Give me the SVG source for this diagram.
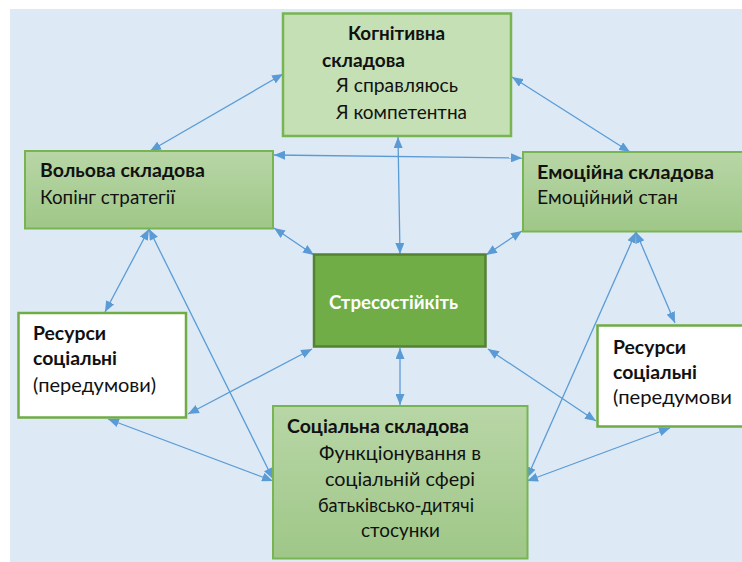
<svg xmlns="http://www.w3.org/2000/svg" width="742" height="562" viewBox="0 0 742 562">
<defs>
<linearGradient id="g" x1="0" y1="0" x2="0" y2="1">
<stop offset="0" stop-color="#b8d6a6"/>
<stop offset="1" stop-color="#9fc788"/>
</linearGradient>
<marker id="a" viewBox="0 0 11 9" refX="11" refY="4.5" markerWidth="11" markerHeight="9" markerUnits="userSpaceOnUse" orient="auto-start-reverse">
<path d="M0,0 L11,4.5 L0,9 z" fill="#5b9bd5"/>
</marker>
<style>
text{font-family:Lato,"Noto Sans",sans-serif;font-size:19.5px;fill:#111}
.b{font-weight:bold}
.w{fill:#ffffff}
.gbox{fill:url(#g);stroke:#78b452;stroke-width:2}
.cog{fill:#c5e0b4;stroke:#78b452;stroke-width:2.5}
.res{fill:#ffffff;stroke:#6fac46;stroke-width:2.5}
.core{fill:#70ad47;stroke:#548235;stroke-width:2.5}
#connectors line{stroke:#5b9bd5;stroke-width:1.3;marker-start:url(#a);marker-end:url(#a)}
</style>
</defs>
<rect x="0" y="0" width="742" height="562" fill="#ffffff"/>
<rect x="10" y="9" width="732" height="553" fill="#ddeaf6"/>
<g id="connectors">
<line x1="150" y1="151" x2="283" y2="74"/>
<line x1="512" y1="77" x2="630" y2="152"/>
<line x1="274" y1="155" x2="522" y2="158"/>
<line x1="398" y1="137" x2="400" y2="254"/>
<line x1="274" y1="228" x2="314" y2="255"/>
<line x1="522" y1="231" x2="486" y2="255"/>
<line x1="149" y1="229" x2="105" y2="312"/>
<line x1="149" y1="229" x2="273" y2="479"/>
<line x1="188" y1="414" x2="312" y2="349"/>
<line x1="108" y1="419" x2="273" y2="481"/>
<line x1="400" y1="348" x2="400" y2="405"/>
<line x1="488" y1="349" x2="596" y2="421"/>
<line x1="636" y1="232" x2="675" y2="323"/>
<line x1="636" y1="232" x2="527" y2="478"/>
<line x1="670" y1="428" x2="527" y2="481"/>
</g>
<g id="cognitive">
<rect class="cog" x="283" y="13.5" width="228" height="122.5"/>
<text class="b" x="348" y="40" textLength="97" lengthAdjust="spacingAndGlyphs">Когнітивна</text>
<text class="b" x="322" y="67" textLength="83" lengthAdjust="spacingAndGlyphs">складова</text>
<text x="336" y="92" textLength="122" lengthAdjust="spacingAndGlyphs">Я справляюсь</text>
<text x="336" y="119" textLength="131" lengthAdjust="spacingAndGlyphs">Я компетентна</text>
</g>
<g id="volova">
<rect class="gbox" x="25" y="151" width="248" height="77.5"/>
<text class="b" x="40" y="177" textLength="165" lengthAdjust="spacingAndGlyphs">Вольова складова</text>
<text x="40" y="204" textLength="135" lengthAdjust="spacingAndGlyphs">Копінг стратегії</text>
</g>
<g id="emotional">
<rect class="gbox" x="523" y="152" width="240" height="79.5"/>
<text class="b" x="537" y="179" textLength="177" lengthAdjust="spacingAndGlyphs">Емоційна складова</text>
<text x="537" y="204" textLength="141" lengthAdjust="spacingAndGlyphs">Емоційний стан</text>
</g>
<g id="core">
<rect class="core" x="314" y="254.5" width="171.5" height="92"/>
<text class="b w" x="329" y="309" textLength="129" lengthAdjust="spacingAndGlyphs">Стресостійкіть</text>
</g>
<g id="resources-left">
<rect class="res" x="18.5" y="313" width="167.5" height="104.5"/>
<text class="b" x="33" y="340" textLength="73" lengthAdjust="spacingAndGlyphs">Ресурси</text>
<text class="b" x="33" y="365" textLength="84" lengthAdjust="spacingAndGlyphs">соціальні</text>
<text x="33" y="392" textLength="123" lengthAdjust="spacingAndGlyphs">(передумови)</text>
</g>
<g id="resources-right">
<rect class="res" x="597.5" y="325.5" width="165" height="101"/>
<text class="b" x="613" y="354" textLength="73" lengthAdjust="spacingAndGlyphs">Ресурси</text>
<text class="b" x="613" y="379" textLength="84" lengthAdjust="spacingAndGlyphs">соціальні</text>
<text x="613" y="404" textLength="119" lengthAdjust="spacingAndGlyphs">(передумови</text>
</g>
<g id="social">
<rect class="gbox" x="273" y="406" width="254.5" height="152.5"/>
<text class="b" x="287" y="433" textLength="182" lengthAdjust="spacingAndGlyphs">Соціальна складова</text>
<text x="319" y="460" textLength="162" lengthAdjust="spacingAndGlyphs">Функціонування в</text>
<text x="325" y="486" textLength="150" lengthAdjust="spacingAndGlyphs">соціальній сфері</text>
<text x="318" y="512" textLength="156" lengthAdjust="spacingAndGlyphs">батьківсько-дитячі</text>
<text x="361" y="537" textLength="79" lengthAdjust="spacingAndGlyphs">стосунки</text>
</g>
</svg>
